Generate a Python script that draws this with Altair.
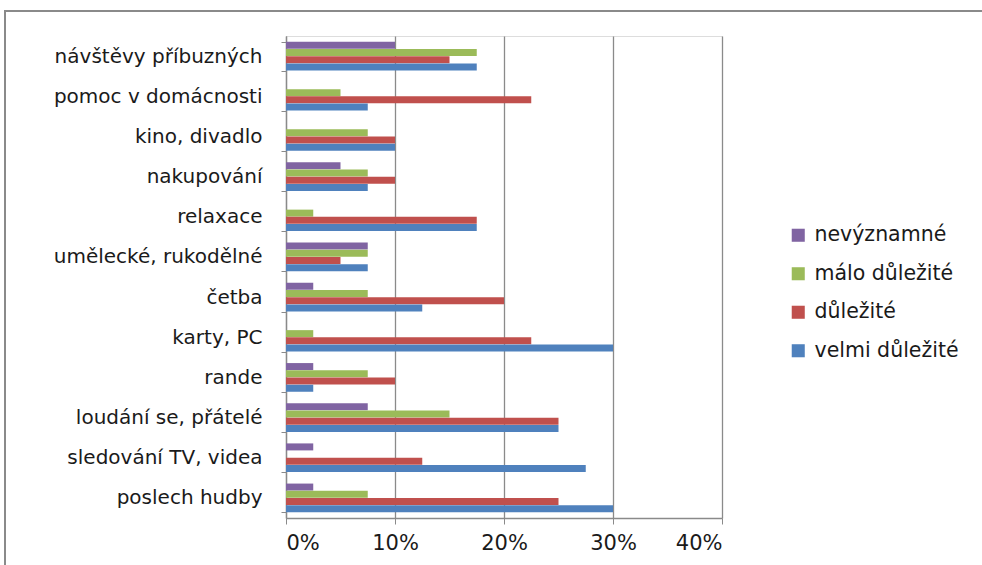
import altair as alt
import pandas as pd

# Leisure activities and how important respondents rate them (share of answers)
activities = [
    "návštěvy příbuzných",
    "pomoc v domácnosti",
    "kino, divadlo",
    "nakupování",
    "relaxace",
    "umělecké, rukodělné",
    "četba",
    "karty, PC",
    "rande",
    "loudání se, přátelé",
    "sledování TV, videa",
    "poslech hudby",
]
series = ["nevýznamné", "málo důležité", "důležité", "velmi důležité"]
colors = ["#8064A2", "#9BBB59", "#C0504D", "#4F81BD"]

nevyznamne = [0.10, 0.0, 0.0, 0.05, 0.0, 0.075, 0.025, 0.0, 0.025, 0.075, 0.025, 0.025]
malo_dulezite = [0.175, 0.05, 0.075, 0.075, 0.025, 0.075, 0.075, 0.025, 0.075, 0.15, 0.0, 0.075]
dulezite = [0.15, 0.225, 0.10, 0.10, 0.175, 0.05, 0.20, 0.225, 0.10, 0.25, 0.125, 0.25]
velmi_dulezite = [0.175, 0.075, 0.10, 0.075, 0.175, 0.075, 0.125, 0.30, 0.025, 0.25, 0.275, 0.30]

x_ticks = [0, 0.1, 0.2, 0.3, 0.4]

rows = []
for name, vals in zip(series, [nevyznamne, malo_dulezite, dulezite, velmi_dulezite]):
    for act, v in zip(activities, vals):
        rows.append({"aktivita": act, "hodnoceni": name, "podil": v})
df = pd.DataFrame(rows)

FONT = "DejaVu Sans"
TEXT = "#1a1a1a"
GRID = "#8a8a8a"

bars = alt.Chart(df).mark_bar(size=7).encode(
    x=alt.X(
        "podil:Q",
        scale=alt.Scale(domain=[0, 0.4], nice=False),
        axis=alt.Axis(
            values=x_ticks,
            format=".0%",
            title=None,
            grid=True,
            gridColor=GRID,
            gridWidth=1.3,
            domainColor=GRID,
            domainWidth=1.3,
            tickColor=GRID,
            tickSize=6,
            labelFontSize=21,
            labelColor=TEXT,
            labelPadding=8,
            labelFont=FONT,
        ),
    ),
    y=alt.Y(
        "aktivita:N",
        sort=activities,
        scale=alt.Scale(paddingInner=0.28, paddingOuter=0.14),
        axis=alt.Axis(
            title=None,
            tickBand="extent",
            tickSize=5,
            tickColor=GRID,
            domainColor=GRID,
            domainWidth=1.3,
            labelFontSize=20,
            labelColor=TEXT,
            labelPadding=19,
            labelFont=FONT,
            labelLimit=300,
        ),
    ),
    yOffset=alt.YOffset("hodnoceni:N", sort=series),
    color=alt.Color(
        "hodnoceni:N",
        scale=alt.Scale(domain=series, range=colors),
        legend=alt.Legend(
            title=None,
            orient="none",
            legendX=502,
            legendY=189,
            symbolType="square",
            symbolSize=170,
            symbolStrokeWidth=0,
            labelFontSize=20.5,
            labelFont=FONT,
            labelColor=TEXT,
            rowPadding=17.5,
            labelOffset=6,
            labelLimit=300,
        ),
    ),
)

# outer chart frame
frame = alt.Chart(pd.DataFrame({"k": [0]})).mark_rect(
    fill=None, stroke=GRID, strokeWidth=2
).encode(
    x=alt.value(-281), x2=alt.value(720),
    y=alt.value(-25), y2=alt.value(560),
)

chart = alt.layer(frame, bars).properties(
    width=436,
    height=482,
    autosize=alt.AutoSizeParams(type="none"),
    padding={"left": 286, "top": 36, "right": 260, "bottom": 47},
).configure_view(stroke=None).configure(background="white")

chart.save("out.html", embed_options={"renderer": "svg", "actions": False})
